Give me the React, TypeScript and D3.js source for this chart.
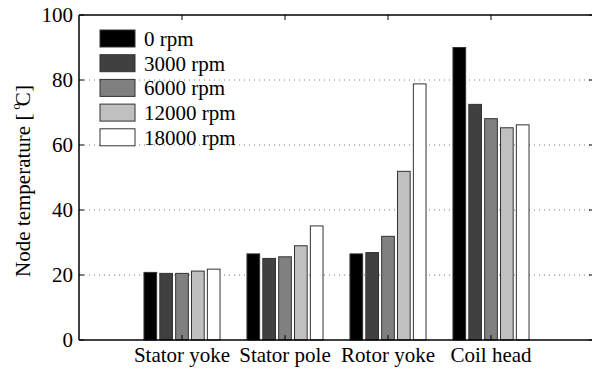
import React from 'react';
import * as d3 from 'd3';

const categories = ['Stator yoke', 'Stator pole', 'Rotor yoke', 'Coil head'];
const seriesNames = ['0 rpm', '3000 rpm', '6000 rpm', '12000 rpm', '18000 rpm'];
const rpm0 = [20.8, 26.5, 26.5, 90.0];
const rpm3000 = [20.5, 25.1, 26.9, 72.5];
const rpm6000 = [20.5, 25.6, 31.9, 68.1];
const rpm12000 = [21.2, 29.0, 51.9, 65.3];
const rpm18000 = [21.8, 35.1, 78.8, 66.2];
const yTicks = [0, 20, 40, 60, 80, 100];
const colors = ['#000000', '#404040', '#808080', '#c0c0c0', '#ffffff'];

const W = 592;
const H = 372;

const App = () => {
  const series = [rpm0, rpm3000, rpm6000, rpm12000, rpm18000];

  // SCALES
  const x = d3.scaleLinear().domain([0, 5]).range([79, 594]);
  const y = d3.scaleLinear().domain([0, 100]).range([340, 15]);
  const groupW = (x(1) - x(0)) * Math.min(0.8, seriesNames.length / (seriesNames.length + 1.5));
  const inner = d3.scaleBand<number>()
    .domain(d3.range(seriesNames.length))
    .range([-groupW / 2, groupW / 2])
    .paddingInner(0.2)
    .paddingOuter(0.1);

  const left = x(0);
  const right = x(5);

  return (
    <svg width={W} height={H}
      style={{ position: 'absolute', left: 0, top: 0, background: '#fff', fontFamily: "'Liberation Serif', 'DejaVu Serif', serif", fontSize: 21 }}>
      {/* grid */}
      {yTicks.slice(1, -1).map(t => (
        <line key={'g' + t} x1={left} x2={right} y1={y(t)} y2={y(t)}
          stroke="#777" strokeWidth={1} strokeDasharray="1,4" />
      ))}

      {/* bars */}
      {series.map((vals, si) => vals.map((v, ci) => (
        <rect key={si + '-' + ci}
          x={x(ci + 1) + (inner(si) as number)}
          y={y(v)}
          width={inner.bandwidth()}
          height={y(0) - y(v)}
          fill={colors[si]}
          stroke="#333" strokeWidth={1} />
      )))}

      {/* axes box */}
      <line x1={left} x2={right} y1={y(100)} y2={y(100)} stroke="#000" strokeWidth={1.5} />
      <line x1={left} x2={right} y1={y(0)} y2={y(0)} stroke="#000" strokeWidth={1.5} />
      <line x1={left} x2={left} y1={y(0)} y2={y(100)} stroke="#000" strokeWidth={1.5} />
      <line x1={right} x2={right} y1={y(0)} y2={y(100)} stroke="#000" strokeWidth={1.5} />

      {/* y ticks */}
      {yTicks.map(t => (
        <g key={'y' + t}>
          <line x1={left} x2={left + 5} y1={y(t)} y2={y(t)} stroke="#000" />
          <line x1={right - 5} x2={right} y1={y(t)} y2={y(t)} stroke="#000" />
          <text x={73} y={y(t)} dy="0.35em" textAnchor="end">{t}</text>
        </g>
      ))}

      {/* x ticks and labels */}
      {categories.map((c, i) => (
        <g key={c}>
          <line x1={x(i + 1)} x2={x(i + 1)} y1={y(100)} y2={y(100) + 5} stroke="#000" />
          <line x1={x(i + 1)} x2={x(i + 1)} y1={y(0)} y2={y(0) - 5} stroke="#000" />
          <text x={x(i + 1)} y={362} textAnchor="middle">{c}</text>
        </g>
      ))}

      {/* y label */}
      <text transform={`translate(30, 181) rotate(-90)`} textAnchor="middle">
        Node temperature [<tspan fontSize={13} dx={4} dy={-10}>o</tspan><tspan dx={-3} dy={10}>C]</tspan>
      </text>

      {/* legend */}
      {seriesNames.map((s, i) => (
        <g key={s} transform={`translate(100, ${30 + i * 24.7})`}>
          <rect x={0} y={0} width={35} height={17} fill={colors[i]} stroke="#333" strokeWidth={1} />
          <text x={44} y={8.5} dy="0.35em">{s}</text>
        </g>
      ))}
    </svg>
  );
};

export default App;
